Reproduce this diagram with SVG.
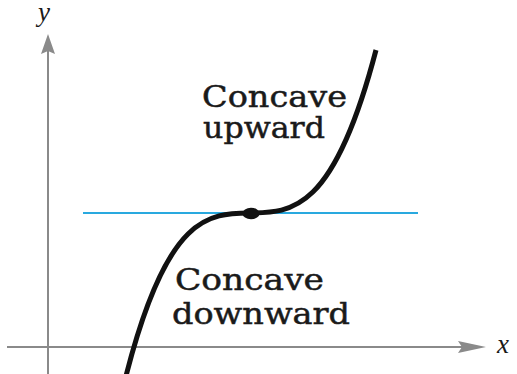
<svg xmlns="http://www.w3.org/2000/svg" width="517" height="374" viewBox="0 0 517 374">
<style>
.axis{stroke:#8a8a8a;stroke-width:2;fill:none}
.head{fill:#8a8a8a}
.lbl{font-family:"DejaVu Serif","Liberation Serif",serif;font-size:30px;fill:#1a1a1a;stroke:#1a1a1a;stroke-width:0.5}
.var{font-family:"Liberation Serif",serif;font-style:italic;font-size:27px;fill:#1a1a1a}
</style>
<rect width="517" height="374" fill="#ffffff"/>
<g id="axes">
<line class="axis" x1="48" y1="50" x2="48" y2="374"/>
<path class="head" d="M48,34 L55,54 L48,51 L41,54 Z"/>
<line class="axis" x1="7" y1="347" x2="462" y2="347"/>
<path class="head" d="M486,347 L458,353 L462,347 L458,341 Z"/>
<text class="var" x="38" y="21">y</text>
<text class="var" x="497" y="353">x</text>
</g>
<g id="tangent">
<line x1="83" y1="213" x2="418" y2="213" stroke="#29a9df" stroke-width="2"/>
</g>
<g id="curve">
<path d="M126,376 C208.67,52 291.33,374 376,50" fill="none" stroke="#111" stroke-width="5"/>
</g>
<g id="inflection">
<ellipse cx="251" cy="213.5" rx="8.5" ry="5.8" fill="#111"/>
</g>
<g id="label-up">
<text class="lbl" x="202" y="107" textLength="145" lengthAdjust="spacingAndGlyphs">Concave</text>
<text class="lbl" x="203" y="138" textLength="122" lengthAdjust="spacingAndGlyphs">upward</text>
</g>
<g id="label-down">
<text class="lbl" x="175" y="290" textLength="149" lengthAdjust="spacingAndGlyphs">Concave</text>
<text class="lbl" x="172" y="324" textLength="178" lengthAdjust="spacingAndGlyphs">downward</text>
</g>
</svg>
